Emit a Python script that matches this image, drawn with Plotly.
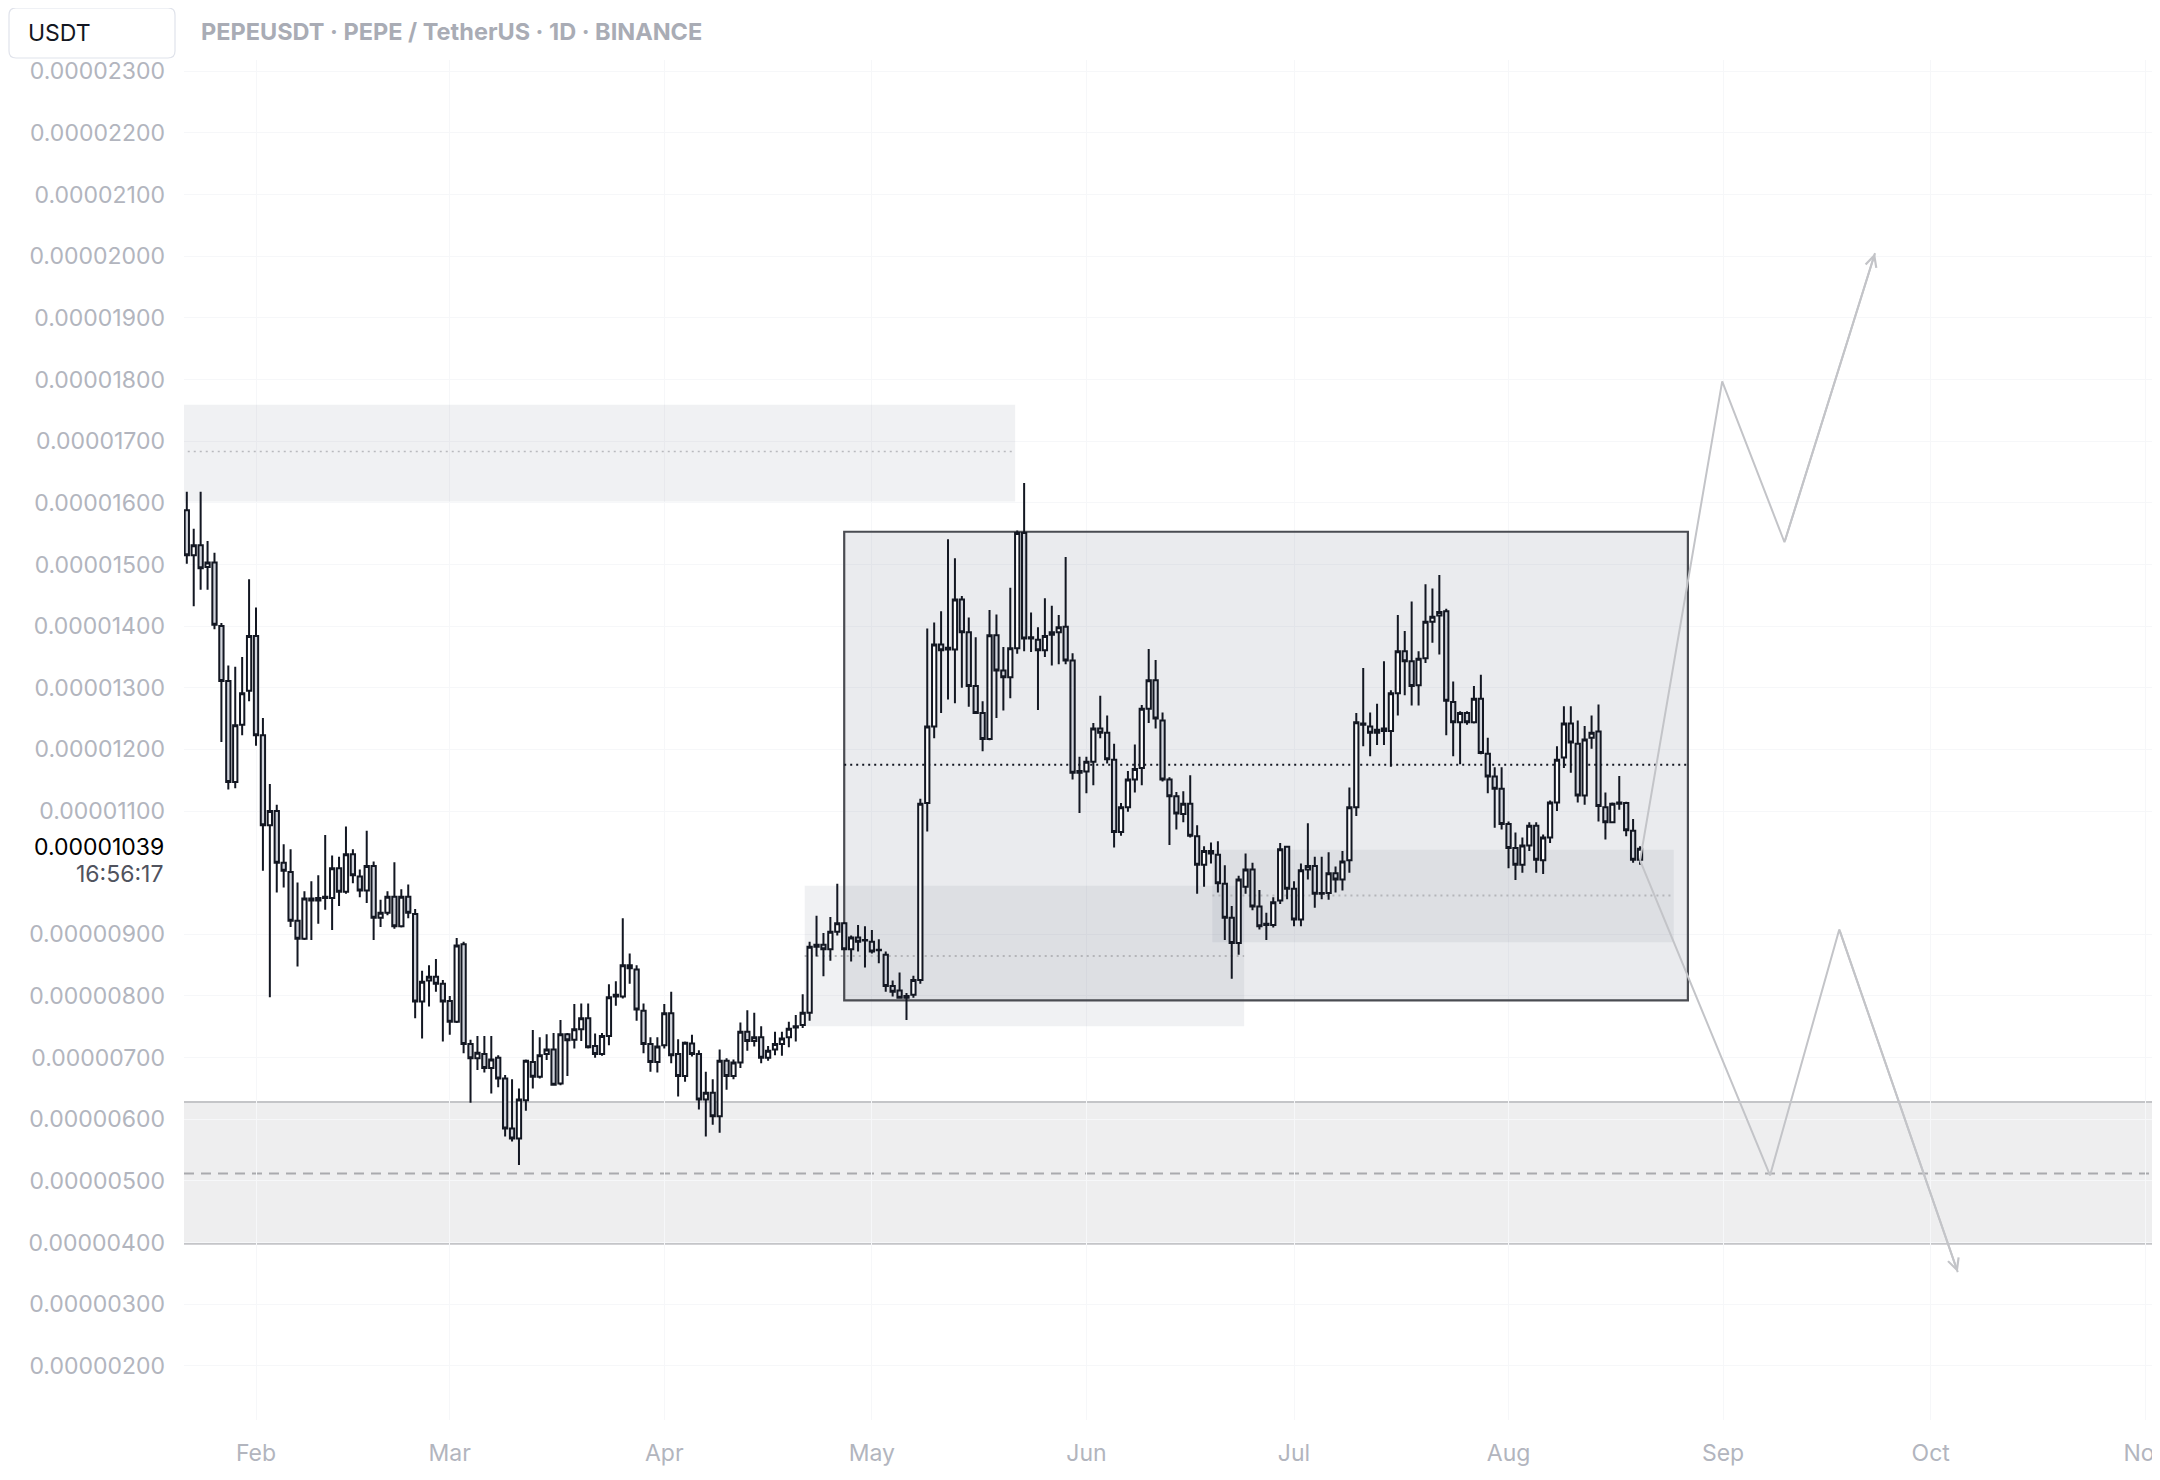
import pandas as pd
import plotly.graph_objects as go

# ---------------- data (prices in units of 1e-6 USDT) ----------------
FIRST_DAY = "2025-01-22"

open_ = [
    # Jan 22-31
    15.88, 15.15, 15.31, 14.96, 15.03, 14.00, 13.11, 11.47, 12.40, 12.95,
    # Feb
    13.84, 12.23, 10.77, 11.00, 10.16, 10.01, 9.22, 8.93, 9.58, 9.55,
    9.59, 9.59, 10.07, 9.69, 10.30, 9.94, 9.71, 10.11, 9.27, 9.35,
    9.61, 9.13, 9.61, 9.33, 7.91, 8.25, 8.31, 8.20,
    # Mar
    7.92, 7.58, 8.84, 7.22, 6.99, 7.06, 6.83, 7.00, 6.66, 5.85,
    5.69, 6.31, 6.93, 6.69, 7.06, 7.13, 6.58, 7.38, 7.29, 7.46,
    7.64, 7.19, 7.06, 7.35, 7.99, 7.99, 8.50, 8.43, 7.76, 7.22, 6.93,
    # Apr
    7.20, 7.72, 7.06, 6.70, 7.23, 7.06, 6.32, 6.43, 6.05, 6.95,
    6.70, 6.92, 7.42, 7.27, 7.33, 7.00, 7.13, 7.22, 7.33, 7.49,
    7.53, 7.73, 8.80, 8.83, 8.76, 9.04, 9.18, 8.76, 8.95, 8.90,
    # May
    8.88, 8.75, 8.67, 8.16, 8.09, 7.97, 8.02, 8.26, 11.13, 12.37,
    13.70, 13.62, 13.62, 14.43, 13.90, 13.03, 12.59, 12.17, 13.85, 13.28,
    13.17, 13.64, 15.51, 13.80, 13.78, 13.61, 13.86, 13.90, 13.99, 13.44, 11.62,
    # Jun
    11.64, 11.80, 12.34, 12.27, 11.83, 10.66, 11.06, 11.51, 11.70, 12.66,
    13.12, 12.47, 11.51, 11.24, 10.95, 11.12, 10.59, 10.13, 10.35, 10.29,
    9.82, 9.27, 8.86, 9.77, 10.05, 9.45, 9.15, 9.15, 9.55, 10.42,
    # Jul
    9.74, 9.24, 10.05, 10.11, 9.66, 9.67, 9.99, 9.89, 10.20, 11.06,
    12.42, 12.37, 12.27, 12.30, 12.30, 12.91, 13.59, 13.43, 13.04, 13.48,
    14.07, 14.17, 14.24, 12.77, 12.44, 12.59, 12.44, 12.82, 11.93, 11.56, 11.36,
    # Aug 1-20
    10.79, 10.40, 10.13, 10.44, 10.76, 10.20, 10.57, 11.14, 11.87, 12.42,
    12.09, 11.25, 12.19, 12.29, 11.06, 10.82, 11.12, 11.13, 10.68, 10.21,
]

high = [
    16.18, 15.58, 16.18, 15.38, 15.19, 14.05, 13.36, 13.34, 13.50, 14.76,
    14.30, 12.51, 11.44, 11.10, 10.46, 10.38, 9.84, 9.70, 9.86, 9.96,
    10.61, 10.28, 10.26, 10.75, 10.38, 10.05, 10.68, 10.18, 9.56, 9.70,
    10.17, 9.73, 9.81, 9.41, 8.41, 8.50, 8.60, 8.26,
    8.00, 8.94, 8.88, 7.29, 7.35, 7.35, 7.35, 7.04, 6.72, 6.65,
    6.50, 6.97, 7.45, 7.33, 7.38, 7.40, 7.61, 7.40, 7.87, 7.88,
    7.88, 7.39, 7.40, 8.19, 8.24, 9.26, 8.69, 8.50, 7.88, 7.33, 7.33,
    7.87, 8.07, 7.30, 7.26, 7.37, 7.12, 6.77, 6.65, 7.13, 6.99,
    6.97, 7.57, 7.77, 7.73, 7.51, 7.19, 7.42, 7.42, 7.58, 7.69,
    8.03, 8.88, 9.30, 9.02, 9.28, 9.82, 9.20, 8.98, 9.15, 9.13,
    9.07, 8.92, 8.72, 8.25, 8.38, 8.05, 8.33, 11.20, 13.96, 14.06,
    14.24, 15.41, 15.10, 14.49, 14.14, 13.82, 12.78, 14.26, 14.19, 13.66,
    14.62, 15.55, 16.32, 14.22, 13.98, 14.45, 14.33, 14.18, 15.12, 13.56, 11.88,
    11.88, 12.43, 12.87, 12.55, 12.09, 11.13, 11.65, 12.08, 12.72, 13.63,
    13.45, 12.60, 11.55, 11.31, 11.32, 11.58, 10.77, 10.43, 10.49, 10.51,
    10.12, 9.46, 9.95, 10.31, 10.16, 9.72, 9.35, 9.60, 10.48, 10.43,
    9.86, 10.15, 10.80, 10.26, 10.26, 10.33, 10.10, 10.35, 11.38, 12.59,
    13.32, 12.60, 12.74, 13.43, 12.96, 14.18, 13.92, 14.40, 13.59, 14.68,
    14.61, 14.83, 14.28, 13.10, 12.62, 12.62, 13.03, 13.21, 12.19, 11.71, 11.71,
    10.83, 10.65, 10.57, 10.82, 10.82, 10.62, 11.17, 12.05, 12.70, 12.70,
    12.47, 12.38, 12.55, 12.73, 11.30, 11.14, 11.57, 11.15, 10.87, 10.43,
]

low = [
    15.01, 14.32, 14.59, 14.59, 13.95, 12.12, 11.35, 11.37, 12.23, 12.78,
    12.06, 10.03, 7.98, 9.68, 9.76, 9.12, 8.48, 8.91, 8.91, 9.17,
    9.40, 9.07, 9.46, 9.66, 9.83, 9.60, 9.51, 8.91, 9.12, 9.31,
    9.09, 9.11, 9.26, 7.64, 7.31, 7.83, 8.07, 7.26,
    7.37, 7.56, 7.07, 6.27, 6.80, 6.76, 6.42, 6.52, 5.72, 5.64,
    5.26, 6.14, 6.50, 6.66, 6.96, 6.55, 6.55, 6.70, 7.15, 7.27,
    7.15, 7.00, 7.03, 7.20, 7.84, 7.96, 8.20, 7.60, 7.07, 6.77, 6.76,
    7.15, 6.91, 6.37, 6.61, 7.02, 6.16, 5.72, 5.91, 5.78, 6.48,
    6.65, 6.83, 7.11, 7.18, 6.91, 6.95, 7.04, 7.03, 7.17, 7.26,
    7.48, 7.60, 8.64, 8.32, 8.57, 8.98, 8.74, 8.56, 8.72, 8.46,
    8.69, 8.53, 8.07, 7.99, 7.96, 7.61, 7.97, 8.20, 10.67, 12.18,
    12.59, 12.81, 12.75, 13.00, 12.69, 12.58, 11.97, 12.15, 12.51, 12.63,
    12.83, 13.55, 13.59, 13.58, 12.64, 13.50, 13.36, 13.38, 13.38, 11.51, 10.97,
    11.29, 11.42, 12.18, 11.77, 10.41, 10.60, 10.99, 11.30, 11.42, 12.43,
    12.34, 11.48, 10.45, 10.70, 10.82, 10.57, 9.66, 9.77, 10.15, 9.68,
    8.91, 8.28, 8.67, 9.66, 9.39, 9.08, 8.91, 9.11, 9.49, 9.57,
    9.13, 9.13, 9.89, 9.43, 9.57, 9.56, 9.68, 9.71, 10.00, 10.92,
    12.05, 11.89, 12.07, 12.07, 11.72, 12.55, 12.88, 12.71, 12.71, 13.40,
    13.73, 13.54, 12.23, 11.89, 11.76, 12.40, 12.42, 11.92, 11.29, 10.73, 10.70,
    10.07, 9.88, 10.00, 10.35, 10.00, 9.98, 10.48, 11.00, 11.70, 11.62,
    11.14, 11.10, 12.01, 10.83, 10.54, 10.80, 11.02, 10.59, 10.16, 10.13,
]

close = [
    15.15, 15.31, 14.94, 15.03, 14.02, 13.11, 11.47, 12.39, 12.91, 13.84,
    12.23, 10.77, 11.00, 10.16, 10.03, 9.22, 8.93, 9.58, 9.55, 9.59,
    9.61, 10.07, 9.69, 10.30, 9.96, 9.71, 10.11, 9.27, 9.35, 9.61,
    9.13, 9.61, 9.35, 7.91, 8.23, 8.31, 8.20, 7.91,
    7.58, 8.82, 7.22, 6.99, 7.08, 6.83, 6.97, 6.66, 5.85, 5.69,
    6.32, 6.95, 6.69, 7.04, 7.13, 6.56, 7.38, 7.28, 7.46, 7.64,
    7.17, 7.06, 7.35, 7.98, 8.02, 8.50, 8.45, 7.78, 7.22, 6.93, 7.18,
    7.72, 7.04, 6.70, 7.24, 7.06, 6.32, 6.43, 6.05, 6.95, 6.70,
    6.92, 7.42, 7.27, 7.33, 7.00, 7.11, 7.22, 7.31, 7.47, 7.51,
    7.73, 8.80, 8.83, 8.76, 9.04, 9.18, 8.76, 8.95, 8.88, 8.91,
    8.72, 8.74, 8.16, 8.07, 7.97, 8.00, 8.26, 11.12, 12.37, 13.70,
    13.61, 13.65, 14.43, 13.90, 13.03, 12.59, 12.17, 13.85, 13.28, 13.17,
    13.64, 15.51, 13.80, 13.82, 13.61, 13.84, 13.90, 13.98, 13.44, 11.62, 11.65,
    11.80, 12.34, 12.27, 11.84, 10.66, 11.06, 11.51, 11.68, 12.66, 13.12,
    12.50, 11.51, 11.24, 10.96, 11.12, 10.60, 10.13, 10.35, 10.31, 9.83,
    9.27, 8.86, 9.89, 10.05, 9.45, 9.13, 9.17, 9.52, 10.38, 9.74,
    9.24, 10.04, 10.11, 9.66, 9.67, 9.99, 9.89, 10.18, 11.06, 12.44,
    12.40, 12.27, 12.32, 12.34, 12.91, 13.59, 13.43, 13.03, 13.47, 14.07,
    14.15, 14.23, 12.79, 12.44, 12.59, 12.44, 12.82, 11.94, 11.56, 11.36, 10.79,
    10.40, 10.13, 10.44, 10.76, 10.21, 10.57, 11.14, 11.83, 12.42, 12.11,
    11.25, 12.16, 12.27, 11.08, 10.82, 11.12, 11.14, 10.69, 10.21, 10.39,
]

assert len(open_) == len(high) == len(low) == len(close) == 211
dates = pd.date_range(FIRST_DAY, periods=len(open_), freq="D")

price_ticks = [2, 3, 4, 5, 6, 7, 8, 9, 11, 12, 13, 14, 15, 16, 17, 18, 19, 20, 21, 22, 23]
price_tick_labels = [
    "0.00000200", "0.00000300", "0.00000400", "0.00000500", "0.00000600",
    "0.00000700", "0.00000800", "0.00000900", "0.00001100", "0.00001200",
    "0.00001300", "0.00001400", "0.00001500", "0.00001600", "0.00001700",
    "0.00001800", "0.00001900", "0.00002000", "0.00002100", "0.00002200",
    "0.00002300",
]
month_ticks = ["2025-02-01", "2025-03-01", "2025-04-01", "2025-05-01", "2025-06-01",
               "2025-07-01", "2025-08-01", "2025-09-01", "2025-10-01", "2025-11-01"]
month_labels = ["Feb", "Mar", "Apr", "May", "Jun", "Jul", "Aug", "Sep", "Oct", "Nov"]

last_price = 10.39
last_price_text = "0.00001039"
countdown_text = "16:56:17"

# drawn zones
upper_zone_x = ["2025-01-10", "2025-05-21 17:00"]
upper_zone_y = [16.02, 17.59]
upper_zone_mid = 16.83

range_box_x = ["2025-04-27", "2025-08-26 22:00"]
range_box_y = [7.93, 15.53]
range_box_mid = 11.75

demand1_x = ["2025-04-21 07:00", "2025-06-23 19:00"]
demand1_y = [7.51, 9.79]
demand1_mid = 8.65

demand2_x = ["2025-06-19 05:00", "2025-08-24 21:00"]
demand2_y = [8.87, 10.37]
demand2_mid = 9.63

support_zone_y = [3.98, 6.28]
support_zone_mid = 5.12

# projected paths
up_path_x = ["2025-08-20", "2025-08-31 21:00", "2025-09-09 21:00", "2025-09-22 23:00"]
up_path_y = [10.20, 17.97, 15.36, 20.05]
down_path_x = ["2025-08-20", "2025-09-07 19:00", "2025-09-17 19:00", "2025-10-04 22:00"]
down_path_y = [10.20, 5.09, 9.08, 3.52]

# ---------------- layout geometry ----------------
# the page body adds an 8px offset; figure coords = page coords - 8
OFF = 8
W, H = 2160 - OFF, 1480 - OFF
ML, MR, MT, MB = 184 - OFF, 0, 0, 60
PW, PH = W - ML - MR, H - MT - MB
x_range = ["2025-01-21 14:17", "2025-11-03 03:22"]
y_range = [1.122, 24.026]


def px(xp):  # page x -> paper
    return (xp - OFF - ML) / PW


def py(yp):  # page y -> paper
    return (H - MB - (yp - OFF)) / PH


FONT = "Inter, Roboto, 'Liberation Sans', sans-serif"
AXIS_GRAY = "#b2b5be"
INK = "#131722"
GRID = "#f6f7f9"
LAYER = "between"

fig = go.Figure()

fig.add_trace(go.Candlestick(
    x=dates, open=open_, high=high, low=low, close=close,
    increasing=dict(line=dict(color=INK, width=2), fillcolor="#ffffff"),
    decreasing=dict(line=dict(color=INK, width=2), fillcolor="#d1d4dc"),
    whiskerwidth=0, showlegend=False, hoverinfo="skip",
))

ARROW = "#c3c4c8"
for xs, ys in ((up_path_x, up_path_y), (down_path_x, down_path_y)):
    fig.add_trace(go.Scatter(x=xs, y=ys, mode="lines",
                             line=dict(color=ARROW, width=2),
                             showlegend=False, hoverinfo="skip"))

shapes = []
# support zone (full width)
shapes.append(dict(type="rect", xref="paper", yref="y", x0=0, x1=1,
                   y0=support_zone_y[0], y1=support_zone_y[1],
                   fillcolor="#eeeeef", line=dict(width=0), layer=LAYER))
for yv in support_zone_y:
    shapes.append(dict(type="line", xref="paper", yref="y", x0=0, x1=1, y0=yv, y1=yv,
                       line=dict(color="#c4c5c8", width=2), layer=LAYER))
shapes.append(dict(type="line", xref="paper", yref="y", x0=0, x1=1,
                   y0=support_zone_mid, y1=support_zone_mid,
                   line=dict(color="#a9aaae", width=2, dash="10px,7px"), layer=LAYER))

ZONE_FILL = "rgba(110,115,135,0.10)"
BOX_FILL = "rgba(110,115,135,0.145)"
# upper supply zone
shapes.append(dict(type="rect", xref="x", yref="y", x0=upper_zone_x[0], x1=upper_zone_x[1],
                   y0=upper_zone_y[0], y1=upper_zone_y[1], fillcolor=ZONE_FILL,
                   line=dict(width=0), layer=LAYER))
shapes.append(dict(type="line", xref="x", yref="y", x0=upper_zone_x[0], x1=upper_zone_x[1],
                   y0=upper_zone_mid, y1=upper_zone_mid,
                   line=dict(color="#b9babe", width=1.5, dash="2px,4px"), layer=LAYER))
# demand zones
for zx, zy in ((demand1_x, demand1_y), (demand2_x, demand2_y)):
    shapes.append(dict(type="rect", xref="x", yref="y", x0=zx[0], x1=zx[1], y0=zy[0], y1=zy[1],
                       fillcolor=ZONE_FILL, line=dict(width=0), layer=LAYER))
# range box
shapes.append(dict(type="rect", xref="x", yref="y", x0=range_box_x[0], x1=range_box_x[1],
                   y0=range_box_y[0], y1=range_box_y[1], fillcolor=BOX_FILL,
                   line=dict(color="#4a4c52", width=2.2), layer=LAYER))
for zx, zm in ((demand1_x, demand1_mid), (demand2_x, demand2_mid)):
    shapes.append(dict(type="line", xref="x", yref="y", x0=zx[0], x1=zx[1], y0=zm, y1=zm,
                       line=dict(color="#b4b5b9", width=2, dash="2px,4px"), layer=LAYER))
shapes.append(dict(type="line", xref="x", yref="y", x0=range_box_x[0], x1=range_box_x[1],
                   y0=range_box_mid, y1=range_box_mid,
                   line=dict(color=INK, width=2, dash="2px,4px"), layer=LAYER))
# last price line (white, visible over the grey areas)
shapes.append(dict(type="line", xref="paper", yref="y", x0=0, x1=1,
                   y0=last_price, y1=last_price,
                   line=dict(color="#ffffff", width=2, dash="3px,4px"), layer=LAYER))

# header strip and symbol box
shapes.append(dict(type="rect", xref="paper", yref="paper", x0=px(0), x1=px(2160),
                   y0=py(60), y1=py(0), fillcolor="#ffffff", line=dict(width=0), layer="above"))
bx0, bx1, by0, by1 = px(9), px(175), py(58), py(8)
rx, ry = 7 / PW, 7 / PH
box_path = (f"M{bx0 + rx},{by1} L{bx1 - rx},{by1} Q{bx1},{by1} {bx1},{by1 - ry} "
            f"L{bx1},{by0 + ry} Q{bx1},{by0} {bx1 - rx},{by0} L{bx0 + rx},{by0} "
            f"Q{bx0},{by0} {bx0},{by0 + ry} L{bx0},{by1 - ry} Q{bx0},{by1} {bx0 + rx},{by1} Z")
shapes.append(dict(type="path", xref="paper", yref="paper", path=box_path,
                   fillcolor="#ffffff", line=dict(color="#e0e3eb", width=1.2), layer="above"))

annotations = [
    dict(xref="paper", yref="paper", x=px(26), y=py(33), text="USDT", showarrow=False,
         xanchor="left", yanchor="middle", font=dict(family=FONT, size=23, color=INK)),
    dict(xref="paper", yref="paper", x=px(199), y=py(32),
         text="PEPEUSDT · PEPE / TetherUS · 1D · BINANCE", showarrow=False,
         xanchor="left", yanchor="middle",
         font=dict(family=FONT, size=23.5, color="#a9acb5", weight=700)),
    dict(xref="paper", yref="paper", x=px(166), y=py(847), text=last_price_text,
         showarrow=False, xanchor="right", yanchor="middle",
         font=dict(family=FONT, size=23, color="#000000")),
    dict(xref="paper", yref="paper", x=px(166), y=py(874), text=countdown_text,
         showarrow=False, xanchor="right", yanchor="middle",
         font=dict(family=FONT, size=23, color="#50535e")),
]
for xs, ys in ((up_path_x, up_path_y), (down_path_x, down_path_y)):
    annotations.append(dict(xref="x", yref="y", axref="x", ayref="y",
                            x=xs[-1], y=ys[-1], ax=xs[-2], ay=ys[-2], text="",
                            showarrow=True, arrowhead=5, arrowsize=1.1,
                            arrowwidth=2, arrowcolor=ARROW))

fig.update_layout(
    width=W, height=H, autosize=False,
    margin=dict(l=ML, r=MR, t=MT, b=MB, pad=0, autoexpand=False),
    paper_bgcolor="#ffffff", plot_bgcolor="#ffffff",
    shapes=shapes, annotations=annotations,
    showlegend=False, boxgap=0.38, boxgroupgap=0, hovermode=False,
    xaxis=dict(type="date", range=x_range, tickvals=month_ticks, ticktext=month_labels,
               showgrid=True, gridcolor=GRID, gridwidth=1, zeroline=False,
               showline=False, ticks="", ticklabelstandoff=17,
               ticklabeloverflow="allow", automargin=False,
               tickfont=dict(family=FONT, size=23, color=AXIS_GRAY),
               rangeslider=dict(visible=False), fixedrange=True),
    yaxis=dict(range=y_range, tickvals=price_ticks, ticktext=price_tick_labels,
               side="left", showgrid=True, gridcolor=GRID, gridwidth=1,
               zeroline=False, showline=False, ticks="", ticklabelstandoff=18,
               automargin=False,
               tickfont=dict(family=FONT, size=23, color=AXIS_GRAY), fixedrange=True),
)

fig.write_html("out.html")
